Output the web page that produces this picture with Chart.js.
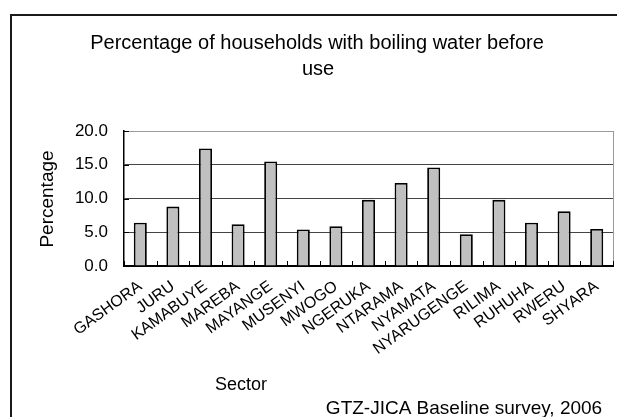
<!DOCTYPE html>
<html>
<head>
<meta charset="utf-8">
<script src="https://cdn.jsdelivr.net/npm/chart.js@4/dist/chart.umd.min.js"></script>
<style>
  html, body { margin: 0; padding: 0; background: #fff; overflow: hidden; }
  #wrap { width: 617px; height: 417px; position: relative; }
</style>
</head>
<body>
<div id="wrap"><canvas id="c" width="617" height="417"></canvas></div>
<script>
// Sectors surveyed and share of households boiling water before use (%)
const sectors = [
  'GASHORA', 'JURU', 'KAMABUYE', 'MAREBA', 'MAYANGE', 'MUSENYI', 'MWOGO',
  'NGERUKA', 'NTARAMA', 'NYAMATA', 'NYARUGENGE', 'RILIMA', 'RUHUHA', 'RWERU', 'SHYARA'
];
const boilingPct = [6.4, 8.8, 17.4, 6.2, 15.5, 5.4, 5.9, 9.8, 12.3, 14.6, 4.7, 9.8, 6.4, 8.1, 5.5];
const yTickValues = [0, 5, 10, 15, 20];

const titleLines = ['Percentage of households with boiling water before', 'use'];
const yTitle = 'Percentage';
const xTitle = 'Sector';
const sourceNote = 'GTZ-JICA Baseline survey, 2006';

const FONT = '"Liberation Sans", Arial, sans-serif';

// Frame, titles, plot border and inward tick marks
const decorations = {
  id: 'decorations',
  beforeDraw(chart) {
    const ctx = chart.ctx;
    ctx.save();
    ctx.fillStyle = '#fff';
    ctx.fillRect(0, 0, chart.width, chart.height);
    ctx.strokeStyle = '#1a1a1a';
    ctx.lineWidth = 2;
    ctx.strokeRect(11, 15, chart.width + 20, chart.height + 20);
    ctx.restore();
  },
  afterDatasetsDraw(chart) {
    const ctx = chart.ctx;
    const a = chart.chartArea;
    const x = chart.scales.x, y = chart.scales.y;
    ctx.save();
    // right side of the plot
    ctx.strokeStyle = '#9a9a9a';
    ctx.lineWidth = 1;
    ctx.beginPath();
    ctx.moveTo(Math.round(a.right) + 0.5, a.top);
    ctx.lineTo(Math.round(a.right) + 0.5, a.bottom);
    ctx.stroke();
    // inward ticks
    ctx.strokeStyle = '#000';
    ctx.lineWidth = 1;
    ctx.beginPath();
    for (let i = 0; i <= sectors.length; i++) {
      const px = Math.round(x.getPixelForValue(i - 0.5)) + 0.5;
      ctx.moveTo(px, a.bottom);
      ctx.lineTo(px, a.bottom - 5);
    }
    yTickValues.forEach(v => {
      const py = Math.round(y.getPixelForValue(v)) + 0.5;
      ctx.moveTo(a.left, py);
      ctx.lineTo(a.left + 5, py);
    });
    ctx.stroke();
    ctx.restore();
  },
  afterDraw(chart) {
    const ctx = chart.ctx;
    ctx.save();
    ctx.fillStyle = '#000';
    ctx.textAlign = 'center';
    ctx.textBaseline = 'middle';
    ctx.font = '20px ' + FONT;
    ctx.fillText(titleLines[0], 317, 43);
    ctx.fillText(titleLines[1], 318, 69);
    ctx.font = '18px ' + FONT;
    ctx.fillText(xTitle, 241, 385);
    ctx.font = '19px ' + FONT;
    ctx.fillText(sourceNote, 464, 409);
    ctx.translate(48, 199);
    ctx.rotate(-Math.PI / 2);
    ctx.font = '19px ' + FONT;
    ctx.fillText(yTitle, 0, 0);
    ctx.restore();
  }
};

new Chart(document.getElementById('c'), {
  type: 'bar',
  data: {
    labels: sectors,
    datasets: [{
      data: boilingPct,
      backgroundColor: '#c0c0c0',
      borderColor: '#000',
      borderWidth: 1.8,
      barPercentage: 0.4,
      categoryPercentage: 1
    }]
  },
  options: {
    responsive: false,
    devicePixelRatio: 1,
    animation: false,
    layout: { padding: { top: 131, right: 4, left: 0, bottom: 0 } },
    plugins: { legend: { display: false }, title: { display: false }, tooltip: { enabled: false } },
    scales: {
      x: {
        offset: true,
        grid: { display: false },
        border: { display: true, color: '#000', width: 2 },
        ticks: {
          autoSkip: false,
          maxRotation: 36,
          minRotation: 36,
          padding: 3,
          color: '#000',
          font: { family: FONT, size: 16 }
        },
        afterFit(scale) { scale.height = 151; }
      },
      y: {
        min: 0,
        max: 20,
        afterBuildTicks(scale) { scale.ticks = yTickValues.map(v => ({ value: v })); },
        grid: {
          drawTicks: false,
          color: ctx => (ctx.tick && ctx.tick.value === 20 ? '#9a9a9a' : '#444'),
          lineWidth: 1
        },
        border: { display: true, color: '#000', width: 1.5 },
        ticks: {
          padding: 16,
          color: '#000',
          font: { family: FONT, size: 17 },
          callback: v => Number(v).toFixed(1)
        },
        afterFit(scale) { scale.width = 124; }
      }
    }
  },
  plugins: [decorations]
});
</script>
</body>
</html>
